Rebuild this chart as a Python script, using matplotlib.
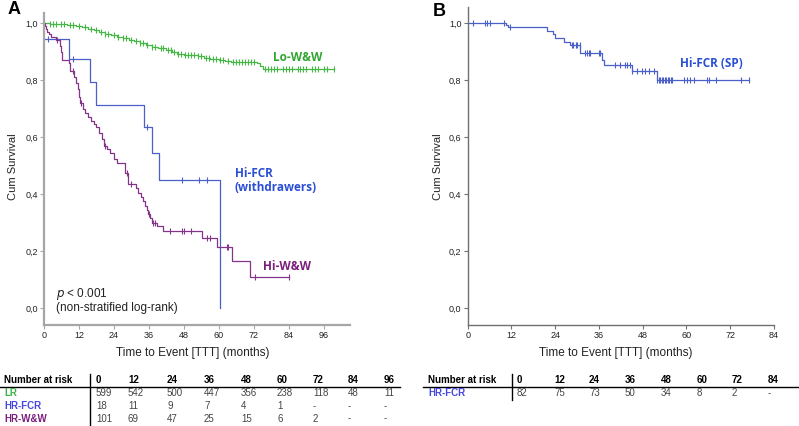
import numpy as np
import matplotlib.pyplot as plt
from matplotlib.lines import Line2D

# ---- data ----
# Panel A, Lo-W&W (green)
lo_t = [0, 2, 5, 8, 11, 13, 15, 17, 19, 21, 23, 25, 27, 29, 31, 33, 35, 37, 39, 42,
        44, 45.5, 48, 53, 55, 57, 60, 62, 64, 73, 74, 75.3]
lo_s = [1.0, 0.998, 0.996, 0.993, 0.99, 0.985, 0.98, 0.975, 0.97, 0.963, 0.957, 0.952,
        0.947, 0.942, 0.936, 0.93, 0.923, 0.917, 0.912, 0.906, 0.9, 0.891, 0.888, 0.884,
        0.879, 0.875, 0.871, 0.867, 0.862, 0.858, 0.85, 0.839]
lo_end = 99.5
lo_cens = [2, 3, 4, 6, 7, 9, 10, 12, 14, 16, 18, 19.5, 21, 22, 24, 25.5, 27, 28, 30, 31.5,
           33, 34, 35.5, 37, 38, 40, 41, 42.5, 43.5, 44.5, 46, 47, 48.5, 49.5, 50.5, 51.5,
           53, 54, 55.5, 56.5, 58, 59, 60.5, 61.5, 63, 65, 66, 67, 68, 69, 70, 71, 72,
           76, 77, 78, 79, 80, 82, 83, 84, 85, 87, 88, 89, 90, 92, 93, 94, 96, 97, 99.5]

# Panel A, Hi-FCR withdrawers (blue)
fcr_t = [0, 8.5, 15.7, 17.8, 34.4, 37.0, 39.4, 60.5]
fcr_s = [0.944, 0.874, 0.794, 0.713, 0.635, 0.543, 0.451, 0.0]
fcr_end = 60.5
fcr_cens = [1.4, 9.9, 35.3, 47.3, 53.3, 56.0]

# Panel A, Hi-W&W (purple)
hw_t = [0, 0.3, 0.6, 1.2, 1.8, 2.5, 4.0, 5.5, 6.0, 6.3, 8.5, 9.0, 10.3, 11.0, 11.5, 12.0,
        12.5, 13.3, 14.0, 15.0, 16.0, 17.0, 18.0, 19.0, 19.8, 20.5, 21.5, 22.5, 24.0, 25.0,
        27.8, 28.8, 31.5, 32.3, 33.3, 33.9, 34.5, 35.2, 35.6, 36.3, 37.0, 38.8, 41.0, 54.2,
        59.3, 64.5, 70.7]
hw_s = [1.0, 0.99, 0.98, 0.97, 0.96, 0.95, 0.94, 0.92, 0.90, 0.87, 0.86, 0.83, 0.81, 0.79,
        0.77, 0.74, 0.72, 0.70, 0.685, 0.67, 0.655, 0.645, 0.635, 0.615, 0.595, 0.57, 0.56,
        0.545, 0.525, 0.51, 0.475, 0.435, 0.42, 0.405, 0.39, 0.375, 0.36, 0.345, 0.33,
        0.315, 0.30, 0.29, 0.271, 0.248, 0.216, 0.164, 0.109]
hw_end = 83.9
hw_cens = [4.5, 10.0, 12.8, 20.8, 28.5, 30.0, 36.0, 37.5, 38.2, 43.3, 47.3, 48.0, 50.4,
           55.9, 57.0, 62.7, 63.3, 72.5, 83.9]

# Panel B, Hi-FCR (SP) (blue)
sp_t = [0, 10.5, 11.0, 21.7, 23.5, 24.0, 26.3, 28.1, 30.9, 36.8, 37.3, 45.1, 51.9]
sp_s = [1.0, 0.994, 0.988, 0.974, 0.963, 0.947, 0.933, 0.922, 0.895, 0.87, 0.854, 0.834, 0.801]
sp_end = 77.1
sp_cens = [1.4, 4.8, 5.2, 6.1, 10.0, 11.6, 28.6, 29.0, 29.7, 29.9, 30.7, 32.2, 32.7, 33.2,
           33.6, 35.9, 36.4, 40.5, 41.8, 43.2, 43.7, 44.4, 45.1, 46.4, 47.8, 48.7, 49.6,
           51.0, 51.9, 52.4, 52.8, 53.2, 53.6, 54.0, 54.4, 54.8, 55.3, 55.7, 56.1, 59.2,
           60.2, 61.1, 62.0, 65.7, 66.1, 68.0, 75.0, 77.1]

# number at risk tables
risk_cols_A = ['0', '12', '24', '36', '48', '60', '72', '84', '96']
risk_LR = ['599', '542', '500', '447', '356', '238', '118', '48', '11']
risk_HRFCR = ['18', '11', '9', '7', '4', '1', '-', '-', '-']
risk_HRWW = ['101', '69', '47', '25', '15', '6', '2', '-', '-']
risk_cols_B = ['0', '12', '24', '36', '48', '60', '72', '84']
risk_SP = ['82', '75', '73', '50', '34', '8', '2', '-']

GREEN = '#45b745'
BLUE = '#4a5fc8'
PURPLE = '#84358a'
W, H = 799, 426


def km(ax, t, s, end, cens, color):
    tt = list(t) + [end]
    ss = list(s) + [s[-1]]
    ax.step(tt, ss, where='post', color=color, lw=0.9)
    idx = np.searchsorted(t, cens, side='right') - 1
    ax.plot(cens, np.array(s)[idx], ls='none', marker='|', ms=4, mew=0.8, color=color)


def style(ax, xmax, ymax, spine_col, spine_w):
    ax.set_xlim(0, xmax)
    ax.set_ylim(-0.0586, ymax)
    for sp in ['top', 'right']:
        ax.spines[sp].set_visible(False)
    for sp in ['left', 'bottom']:
        ax.spines[sp].set_color(spine_col)
        ax.spines[sp].set_linewidth(spine_w)
    ax.set_yticks(np.arange(0, 1.01, 0.2))
    ax.set_yticklabels([f'{v:.1f}'.replace('.', ',') for v in np.arange(0, 1.01, 0.2)])
    ax.tick_params(colors=spine_col, labelcolor='#222222', labelsize=6.5, length=3,
                   width=0.8, pad=1.5)


plt.rcParams['font.family'] = ['Liberation Sans', 'DejaVu Sans']
fig = plt.figure(figsize=(W / 100, H / 100), dpi=100)

# ---- panel A ----
axA = fig.add_axes([44 / W, 1 - 325 / H, 306 / W, 312 / H])
style(axA, 105, 1.035, '#a6a6a6', 1.6)
axA.set_xticks(np.arange(0, 97, 12))
km(axA, lo_t, lo_s, lo_end, lo_cens, GREEN)
km(axA, fcr_t, fcr_s, fcr_end, fcr_cens, BLUE)
km(axA, hw_t, hw_s, hw_end, hw_cens, PURPLE)

lab = dict(family=['Open Sans', 'DejaVu Sans'], fontweight='bold', fontsize=8.5)
axA.text(78.5, 0.88, 'Lo-W&W', color='#30a530', va='center', **lab)
axA.text(65.5, 0.448, 'Hi-FCR\n(withdrawers)', color='#2a4fd4', va='center',
         linespacing=1.1, **lab)
axA.text(75, 0.145, 'Hi-W&W', color='#7a1e7e', va='center', **lab)
axA.text(4, 0.049, r'$\it{p}$ < 0.001', fontsize=8.5, color='#222222', va='center')
axA.text(4, 0.0, '(non-stratified log-rank)', fontsize=8.5, color='#222222', va='center')

# ---- panel B ----
axB = fig.add_axes([467.7 / W, 1 - 325 / H, 306.3 / W, 318 / H])
style(axB, 84, 1.057, '#707070', 1.0)
axB.set_xticks(np.arange(0, 85, 12))
km(axB, sp_t, sp_s, sp_end, sp_cens, BLUE)
axB.text(58.3, 0.86, 'Hi-FCR (SP)', color='#2a4fd4', va='center', **lab)

# panel letters, axis labels
fig.text(8 / W, 1 - 10 / H, 'A', fontsize=13, fontweight='bold', va='center')
fig.text(433 / W, 1 - 12 / H, 'B', fontsize=13, fontweight='bold', va='center')
for x in [13, 438]:
    fig.text(x / W, 1 - 167 / H, 'Cum Survival', fontsize=8, rotation=90,
             ha='center', va='center', color='#222222')
for x in [193, 616]:
    fig.text(x / W, 1 - 353 / H, 'Time to Event [TTT] (months)', fontsize=8.5,
             ha='center', va='center', color='#222222')

# ---- number at risk tables ----
def fy(y):
    return 1 - y / H


colx_A = [96, 128, 167, 204, 241, 277, 313, 348, 384]
colx_B = [517, 554, 589, 625, 661, 697, 732, 768]
row_y = [380, 393.5, 406, 418.5]

fig.text(4 / W, fy(row_y[0]), 'Number at risk', fontsize=7, fontweight='bold', va='center')
fig.text(428 / W, fy(row_y[0]), 'Number at risk', fontsize=7, fontweight='bold', va='center')
for x, c in zip(colx_A, risk_cols_A):
    fig.text(x / W, fy(row_y[0]), c, fontsize=7, fontweight='bold', va='center')
for x, c in zip(colx_B, risk_cols_B):
    fig.text(x / W, fy(row_y[0]), c, fontsize=7, fontweight='bold', va='center')

rowsA = [('LR', '#3cb44b', risk_LR), ('HR-FCR', '#4646e0', risk_HRFCR),
         ('HR-W&W', '#7a1e7e', risk_HRWW)]
for (name, col, vals), y in zip(rowsA, row_y[1:]):
    fig.text(4 / W, fy(y), name, fontsize=7, fontweight='bold', color=col, va='center')
    for x, v in zip(colx_A, vals):
        fig.text(x / W, fy(y), v, fontsize=7, color='#444444', va='center')
fig.text(428 / W, fy(row_y[1]), 'HR-FCR', fontsize=7, fontweight='bold', color='#4646e0',
         va='center')
for x, v in zip(colx_B, risk_SP):
    fig.text(x / W, fy(row_y[1]), v, fontsize=7, color='#444444', va='center')

fig.add_artist(Line2D([0, 400 / W], [fy(387), fy(387)], color='black', lw=1.0))
fig.add_artist(Line2D([423 / W, 1], [fy(387), fy(387)], color='black', lw=1.0))
fig.add_artist(Line2D([90 / W, 90 / W], [fy(374), 0], color='black', lw=1.0))
fig.add_artist(Line2D([511.7 / W, 511.7 / W], [fy(374), fy(400)], color='black', lw=1.0))

fig.savefig('out.png', dpi=100)
